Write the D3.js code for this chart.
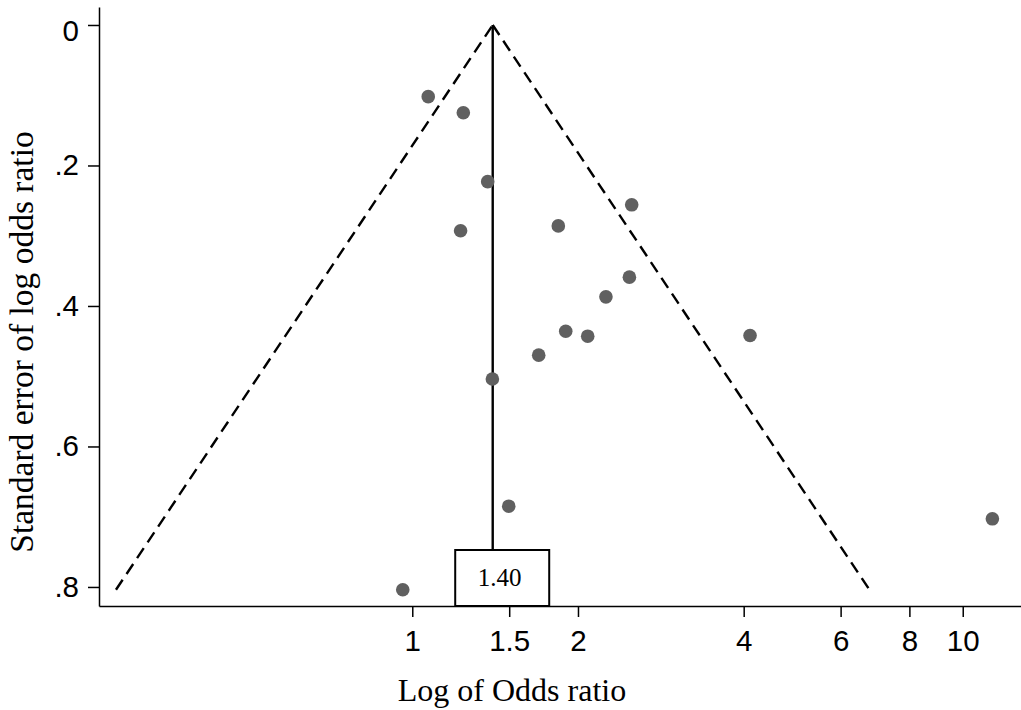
<!DOCTYPE html>
<html>
<head>
<meta charset="utf-8">
<script src="https://cdn.jsdelivr.net/npm/d3@7"></script>
<style>
  html, body { margin: 0; padding: 0; background: #fff; }
  svg { display: block; }
</style>
</head>
<body>
<svg id="chart" width="1021" height="710"></svg>
<script>
// ---- data ----
const studyOR = [1.069, 1.238, 1.371, 1.224, 1.842, 2.504, 2.480, 2.248, 1.900, 2.083, 1.697, 4.108, 1.398, 1.497, 0.961, 11.32];
const studySE = [0.102, 0.125, 0.223, 0.293, 0.286, 0.256, 0.359, 0.387, 0.436, 0.443, 0.470, 0.442, 0.504, 0.685, 0.804, 0.703];
const pooledOR = 1.40;
const pooledLabel = "1.40";
const xTicks = [1, 1.5, 2, 4, 6, 8, 10];
const yTicks = [0, 0.2, 0.4, 0.6, 0.8];
const xTitle = "Log of Odds ratio";
const yTitle = "Standard error of log odds ratio";

const svg = d3.select("#chart");

const x = d3.scaleLog().domain([0.2697, 12.76]).range([99, 1021]);
const y = d3.scaleLinear().domain([-0.0256, 0.8271]).range([7, 606]);

const sansFont = "'Liberation Sans', Arial, Helvetica, sans-serif";
const serifFont = "'Liberation Serif', 'Times New Roman', serif";

// axes
const yAxis = d3.axisLeft(y).tickValues(yTicks).tickSize(11).tickSizeOuter(0).tickPadding(9)
  .tickFormat(d => d === 0 ? "0" : d3.format(".1f")(d).replace(/^0/, ""));
const gy = svg.append("g").attr("transform", "translate(99,0)").call(yAxis);
gy.selectAll("text").attr("font-family", sansFont).attr("font-size", 29.5).attr("fill", "#000")
  .attr("dy", d => d === 0 ? "0.52em" : "0.32em");
gy.selectAll("line").attr("stroke", "#000").attr("stroke-width", 1.5);
gy.select(".domain").attr("stroke", "#000").attr("stroke-width", 1.5);

const xAxis = d3.axisBottom(x).tickValues(xTicks).tickSize(11).tickSizeOuter(0).tickPadding(13)
  .tickFormat(d => String(d));
const gx = svg.append("g").attr("transform", "translate(0,606)").call(xAxis);
gx.selectAll("text").attr("font-family", sansFont).attr("font-size", 29.5).attr("fill", "#000");
gx.selectAll("line").attr("stroke", "#000").attr("stroke-width", 1.5);
gx.select(".domain").attr("stroke", "#000").attr("stroke-width", 1.5);

// funnel (95% pseudo-confidence limits)
const maxSE = d3.max(studySE);
const z = 1.96;
const funnelL = [[pooledOR * Math.exp(-z * maxSE), maxSE], [pooledOR, 0]];
const funnelR = [[pooledOR, 0], [pooledOR * Math.exp(z * maxSE), maxSE]];
const line = d3.line().x(d => x(d[0])).y(d => y(d[1]));
[funnelL, funnelR].forEach(seg => {
  svg.append("path").attr("d", line(seg)).attr("fill", "none")
    .attr("stroke", "#000").attr("stroke-width", 2.4).attr("stroke-dasharray", "12,7");
});

// pooled estimate line and label box
const px = x(pooledOR);
const boxTop = 550, boxBottom = 606;
svg.append("line").attr("x1", px).attr("x2", px).attr("y1", y(0)).attr("y2", boxTop)
  .attr("stroke", "#000").attr("stroke-width", 2.4);
svg.append("rect").attr("x", px - 37.5).attr("y", boxTop).attr("width", 94).attr("height", boxBottom - boxTop)
  .attr("fill", "#fff").attr("stroke", "#000").attr("stroke-width", 2);
svg.append("text").attr("x", px + 7).attr("y", 586).attr("text-anchor", "middle")
  .attr("font-family", serifFont).attr("font-size", 25).attr("fill", "#000").text(pooledLabel);

// study points
svg.append("g").selectAll("circle").data(studyOR.map((v, i) => [v, studySE[i]])).join("circle")
  .attr("cx", d => x(d[0])).attr("cy", d => y(d[1])).attr("r", 6.8).attr("fill", "#606060");

// titles
svg.append("text").attr("x", 512).attr("y", 701).attr("text-anchor", "middle")
  .attr("font-family", serifFont).attr("font-size", 32).attr("fill", "#000").text(xTitle);
svg.append("text").attr("transform", "translate(33,342) rotate(-90)").attr("text-anchor", "middle")
  .attr("font-family", serifFont).attr("font-size", 33.5).attr("fill", "#000").text(yTitle);
</script>
</body>
</html>
